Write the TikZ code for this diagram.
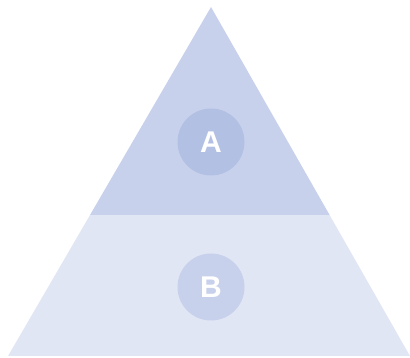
\documentclass[tikz,border=0pt]{standalone}
\usepackage{fontspec}
\setmainfont{Liberation Sans}
\usepackage{tikz}
\usetikzlibrary{positioning,calc}
\definecolor{tiertop}{RGB}{200,209,236}
\definecolor{tierbot}{RGB}{225,230,244}
\definecolor{dotA}{RGB}{178,192,228}

\begin{document}
\begin{tikzpicture}[x=1pt,y=1pt,
    tierdot/.style={circle, minimum size=67pt, inner sep=0pt,
        text=white, font=\fontsize{30}{30}\selectfont\bfseries}]
    \useasboundingbox (0,0) rectangle (410,358);

    % Pyramid corners
    \coordinate (apex) at (211,351);
    \coordinate (bl) at (8,2);
    \coordinate (br) at (410,2);
    \coordinate (ml) at ($(apex)!0.596!(bl)$);
    \coordinate (mr) at ($(apex)!0.596!(br)$);

    % Bottom tier
    \fill[tierbot] (ml) -- (mr) -- (br) -- (bl) -- cycle;
    % Top tier
    \fill[tiertop] (apex) -- (ml) -- (mr) -- cycle;

    % Labels
    \node[tierdot, fill=dotA] (A) at (211,216) {A};
    \node[tierdot, fill=tiertop] (B) at (211,71) {B};
\end{tikzpicture}
\end{document}
